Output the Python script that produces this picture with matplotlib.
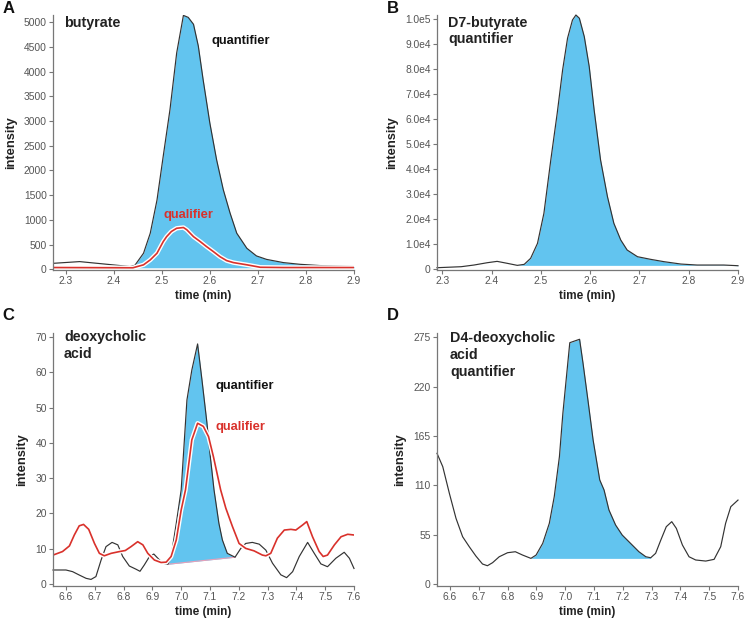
import numpy as np
import matplotlib
matplotlib.use("Agg")
import matplotlib.pyplot as plt
import matplotlib.patheffects as pe

plt.rcParams['font.family'] = ['Liberation Sans', 'DejaVu Sans']

# ---------------- data ----------------
# Panel A: butyrate
a_time = [2.2736, 2.329, 2.434, 2.444, 2.462, 2.476, 2.49, 2.503, 2.517, 2.531, 2.545, 2.555,
          2.566, 2.576, 2.586, 2.6, 2.614, 2.628, 2.642, 2.656, 2.677, 2.697, 2.718, 2.753,
          2.788, 2.829, 2.9]
a_quant = [120, 155, 55, 80, 325, 730, 1400, 2290, 3230, 4380, 5140, 5100,
           4960, 4520, 3840, 2960, 2220, 1610, 1140, 730, 425, 270, 200, 135,
           100, 75, 55]
a_qtime = [2.2736, 2.44, 2.462, 2.476, 2.49, 2.503, 2.51, 2.52, 2.531, 2.545, 2.552, 2.566,
           2.58, 2.593, 2.607, 2.621, 2.635, 2.649, 2.677, 2.705, 2.753, 2.9]
a_qual = [35, 30, 90, 190, 325, 560, 660, 765, 830, 845, 800, 660,
          560, 460, 360, 255, 175, 135, 90, 40, 35, 35]
a_fill = (2.434, 2.9, 30)

# Panel B: D7-butyrate
b_time = [2.289, 2.338, 2.364, 2.391, 2.411, 2.432, 2.452, 2.466, 2.479, 2.493, 2.506, 2.52,
          2.533, 2.544, 2.554, 2.564, 2.571, 2.578, 2.588, 2.598, 2.608, 2.621, 2.635, 2.648,
          2.662, 2.675, 2.696, 2.723, 2.75, 2.784, 2.817, 2.871, 2.9]
b_quant = [400, 800, 1470, 2400, 2940, 2140, 1340, 1740, 4150, 10160, 22200, 43600,
           62300, 79700, 92400, 99700, 101700, 100400, 93000, 81000, 63600, 43600, 28900, 18200,
           11500, 7490, 4810, 3740, 2810, 1870, 1470, 1470, 1200]
b_fill = (2.452, 2.9, 1340)

# Panel C: deoxycholic acid
c_time = [6.555, 6.6, 6.623, 6.646, 6.67, 6.687, 6.704, 6.722, 6.739, 6.76, 6.78, 6.797,
          6.82, 6.843, 6.857, 6.872, 6.89, 6.905, 6.919, 6.936, 6.954, 6.965, 6.983, 7.0,
          7.02, 7.037, 7.057, 7.072, 7.089, 7.1, 7.114, 7.131, 7.143, 7.16, 7.187, 7.207,
          7.224, 7.247, 7.271, 7.294, 7.317, 7.346, 7.366, 7.387, 7.41, 7.439, 7.462, 7.485,
          7.508, 7.537, 7.566, 7.584, 7.6]
c_quant = [3.97, 3.97, 3.5, 2.55, 1.6, 1.3, 2.1, 6.8, 10.6, 11.8, 11.1, 7.8,
           5.1, 4.2, 3.6, 5.4, 7.8, 8.5, 7.3, 5.9, 5.6, 7.8, 17.2, 26.7,
           52.2, 60.7, 68.1, 58, 46, 37, 26.7, 17.2, 12.5, 8.7, 7.6, 10.1,
           11.5, 11.8, 11.3, 9.6, 5.9, 2.6, 1.8, 3.5, 7.8, 11.8, 8.7, 5.7,
           4.9, 7.3, 9.0, 7.3, 4.4]
c_qtime = [6.555, 6.588, 6.612, 6.629, 6.646, 6.661, 6.679, 6.699, 6.716, 6.733, 6.757, 6.786,
           6.806, 6.826, 6.849, 6.867, 6.884, 6.907, 6.93, 6.948, 6.965, 6.983, 7.0, 7.015,
           7.037, 7.057, 7.077, 7.095, 7.112, 7.137, 7.155, 7.178, 7.201, 7.224, 7.253, 7.282,
           7.294, 7.311, 7.334, 7.358, 7.381, 7.398, 7.421, 7.436, 7.456, 7.479, 7.493, 7.508,
           7.532, 7.555, 7.578, 7.6]
c_qual = [8.2, 9.2, 10.8, 13.9, 16.5, 16.9, 15.5, 11.5, 8.7, 8.0, 8.7, 9.2,
          9.5, 10.6, 12.0, 11.1, 8.7, 6.8, 6.1, 6.2, 7.8, 12.5, 21.0, 26.7,
          40.9, 45.6, 44.7, 41.8, 36.1, 26.7, 21.5, 16.3, 11.5, 10.1, 9.4, 8.2,
          8.0, 8.7, 13.0, 15.3, 15.5, 15.3, 16.7, 17.7, 13.4, 9.2, 7.8, 8.2,
          11.1, 13.4, 14.1, 13.9]
c_fill = (6.954, 7.187, 5.6, 7.6)

# Panel D: D4-deoxycholic acid
d_time = [6.555, 6.575, 6.598, 6.621, 6.644, 6.667, 6.69, 6.713, 6.73, 6.748, 6.771, 6.8,
          6.827, 6.852, 6.881, 6.899, 6.922, 6.945, 6.962, 6.98, 6.992, 7.016, 7.05, 7.062,
          7.079, 7.097, 7.12, 7.135, 7.152, 7.175, 7.198, 7.227, 7.256, 7.28, 7.297, 7.314,
          7.332, 7.351, 7.37, 7.386, 7.407, 7.43, 7.453, 7.488, 7.517, 7.54, 7.557, 7.575, 7.6]
d_quant = [145.7, 130.8, 101, 73.2, 52.7, 41.6, 31.2, 22.3, 20.4, 23.8, 30.4, 34.9,
           36, 32.3, 28.6, 32.3, 45.3, 67.7, 97.3, 141.9, 190.3, 269, 272.8, 246,
           205, 160.5, 116, 104.8, 82.5, 65.8, 54.6, 45.3, 36, 30.4, 29.3, 34.2,
           49, 63.9, 69.5, 62, 43.5, 30.4, 26.8, 25.6, 27.5, 41.6, 67.7, 86.2, 93.6]
d_fill = (6.881, 7.297, 28.6)

a_yticks = [0, 500, 1000, 1500, 2000, 2500, 3000, 3500, 4000, 4500, 5000]
b_yticks = [0, 1e4, 2e4, 3e4, 4e4, 5e4, 6e4, 7e4, 8e4, 9e4, 1e5]
b_ylabels = ["0", "1.0e4", "2.0e4", "3.0e4", "4.0e4", "5.0e4", "6.0e4", "7.0e4", "8.0e4", "9.0e4", "1.0e5"]
c_yticks = [0, 10, 20, 30, 40, 50, 60, 70]
d_yticks = [0, 55, 110, 165, 220, 275]
ab_xticks = [2.3, 2.4, 2.5, 2.6, 2.7, 2.8, 2.9]
cd_xticks = [6.6, 6.7, 6.8, 6.9, 7.0, 7.1, 7.2, 7.3, 7.4, 7.5, 7.6]

# ---------------- style ----------------
W, H = 748, 619
FILL = '#62C4EF'
LINE = '#333333'
RED = '#D9312B'
GRAY = '#555555'
TITLE_FS = 10.3
ANN_FS = 9.3

fig = plt.figure(figsize=(W / 100, H / 100), dpi=100)


def ax_at(l, r, t, b):
    return fig.add_axes([l / W, 1 - b / H, (r - l) / W, (b - t) / H])


def ftext(x, y, s, **kw):
    # x, y in pixels from top-left; y is the text baseline
    fig.text(x / W, 1 - y / H, s, va='baseline', ha='left', **kw)


def style(ax, xticks, yticks, ylabels=None, xfmt="{:.1f}"):
    for s in ['top', 'right']:
        ax.spines[s].set_visible(False)
    for s in ['left', 'bottom']:
        ax.spines[s].set_color('#777777')
        ax.spines[s].set_linewidth(0.9)
    ax.set_xticks(xticks)
    ax.set_xticklabels([xfmt.format(v) for v in xticks])
    ax.set_yticks(yticks)
    if ylabels is None:
        ylabels = [str(int(v)) for v in yticks]
    ax.set_yticklabels(ylabels)
    ax.tick_params(axis='both', length=3, width=0.8, color='#777777',
                   labelsize=7.4, labelcolor=GRAY, pad=1.5)
    ax.set_xlabel('time (min)', fontsize=8.5, fontweight='bold', color='#222222', labelpad=3)
    ax.set_ylabel('intensity', fontsize=9.3, fontweight='bold', color='#222222', labelpad=5)


halo = [pe.Stroke(linewidth=3.2, foreground='white'), pe.Normal()]


def fill_window(ax, t, y, t0, t1, b0, b1):
    t = np.asarray(t); y = np.asarray(y)
    m = (t >= t0 - 1e-9) & (t <= t1 + 1e-9)
    base = np.interp(t[m], [t0, t1], [b0, b1])
    ax.fill_between(t[m], base, y[m], color=FILL, linewidth=0)


# Panel A
axA = ax_at(53, 354, 15, 270)
fill_window(axA, a_time, a_quant, a_fill[0], a_fill[1], a_fill[2], a_fill[2])
axA.plot(a_time, a_quant, color=LINE, lw=0.85)
axA.plot(a_qtime, a_qual, color=RED, lw=1.2, path_effects=halo)
axA.set_xlim(2.2736, 2.9)
axA.set_ylim(-15, 5148)
style(axA, ab_xticks, a_yticks)

# Panel B
axB = ax_at(437, 738, 15, 270)
fill_window(axB, b_time, b_quant, b_fill[0], b_fill[1], b_fill[2], b_fill[2])
axB.plot(b_time, b_quant, color=LINE, lw=0.85, clip_on=False)
axB.set_xlim(2.289, 2.9)
axB.set_ylim(-520, 101700)
style(axB, ab_xticks, b_yticks, b_ylabels)

# Panel C
axC = ax_at(53, 354, 333, 586)
fill_window(axC, c_time, c_quant, c_fill[0], c_fill[1], c_fill[2], c_fill[3])
axC.plot([c_fill[0], c_fill[1]], [c_fill[2], c_fill[3]], color='#E9A0B8', lw=0.8)
axC.plot(c_time, c_quant, color=LINE, lw=0.85, clip_on=False)
axC.plot(c_qtime, c_qual, color=RED, lw=1.2, path_effects=halo)
axC.set_xlim(6.555, 7.6)
axC.set_ylim(-0.57, 71.2)
style(axC, cd_xticks, c_yticks)

# Panel D
axD = ax_at(437, 738, 333, 586)
fill_window(axD, d_time, d_quant, d_fill[0], d_fill[1], d_fill[2], d_fill[2])
axD.plot(d_time, d_quant, color=LINE, lw=0.85, clip_on=False)
axD.set_xlim(6.555, 7.6)
axD.set_ylim(-2.2, 279.8)
style(axD, cd_xticks, d_yticks)

# Titles
tkw = dict(fontsize=TITLE_FS, fontweight='bold', color='#222222')
ftext(64, 26.7, 'butyrate', **tkw)
ftext(448, 26.7, 'D7-butyrate', **tkw)
ftext(448, 43.5, 'quantifier', **tkw)
ftext(64, 341, 'deoxycholic', **tkw)
ftext(64, 358, 'acid', **tkw)
ftext(450, 342, 'D4-deoxycholic', **tkw)
ftext(450, 359, 'acid', **tkw)
ftext(450, 376, 'quantifier', **tkw)

# Annotations
akw = dict(fontsize=ANN_FS, fontweight='bold')
ftext(211, 44, 'quantifier', color='#111111', **akw)
ftext(164, 218, 'qualifier', color=RED, **akw)
ftext(216, 389.5, 'quantifier', color='#111111', **akw)
ftext(216, 430, 'qualifier', color=RED, **akw)

# Panel letters
lkw = dict(fontsize=12, fontweight='bold', color='#111111')
ftext(2.7, 13.3, 'A', **lkw)
ftext(386.7, 13.3, 'B', **lkw)
ftext(2.7, 320, 'C', **lkw)
ftext(386.7, 320, 'D', **lkw)

fig.savefig('out.png', dpi=100)
